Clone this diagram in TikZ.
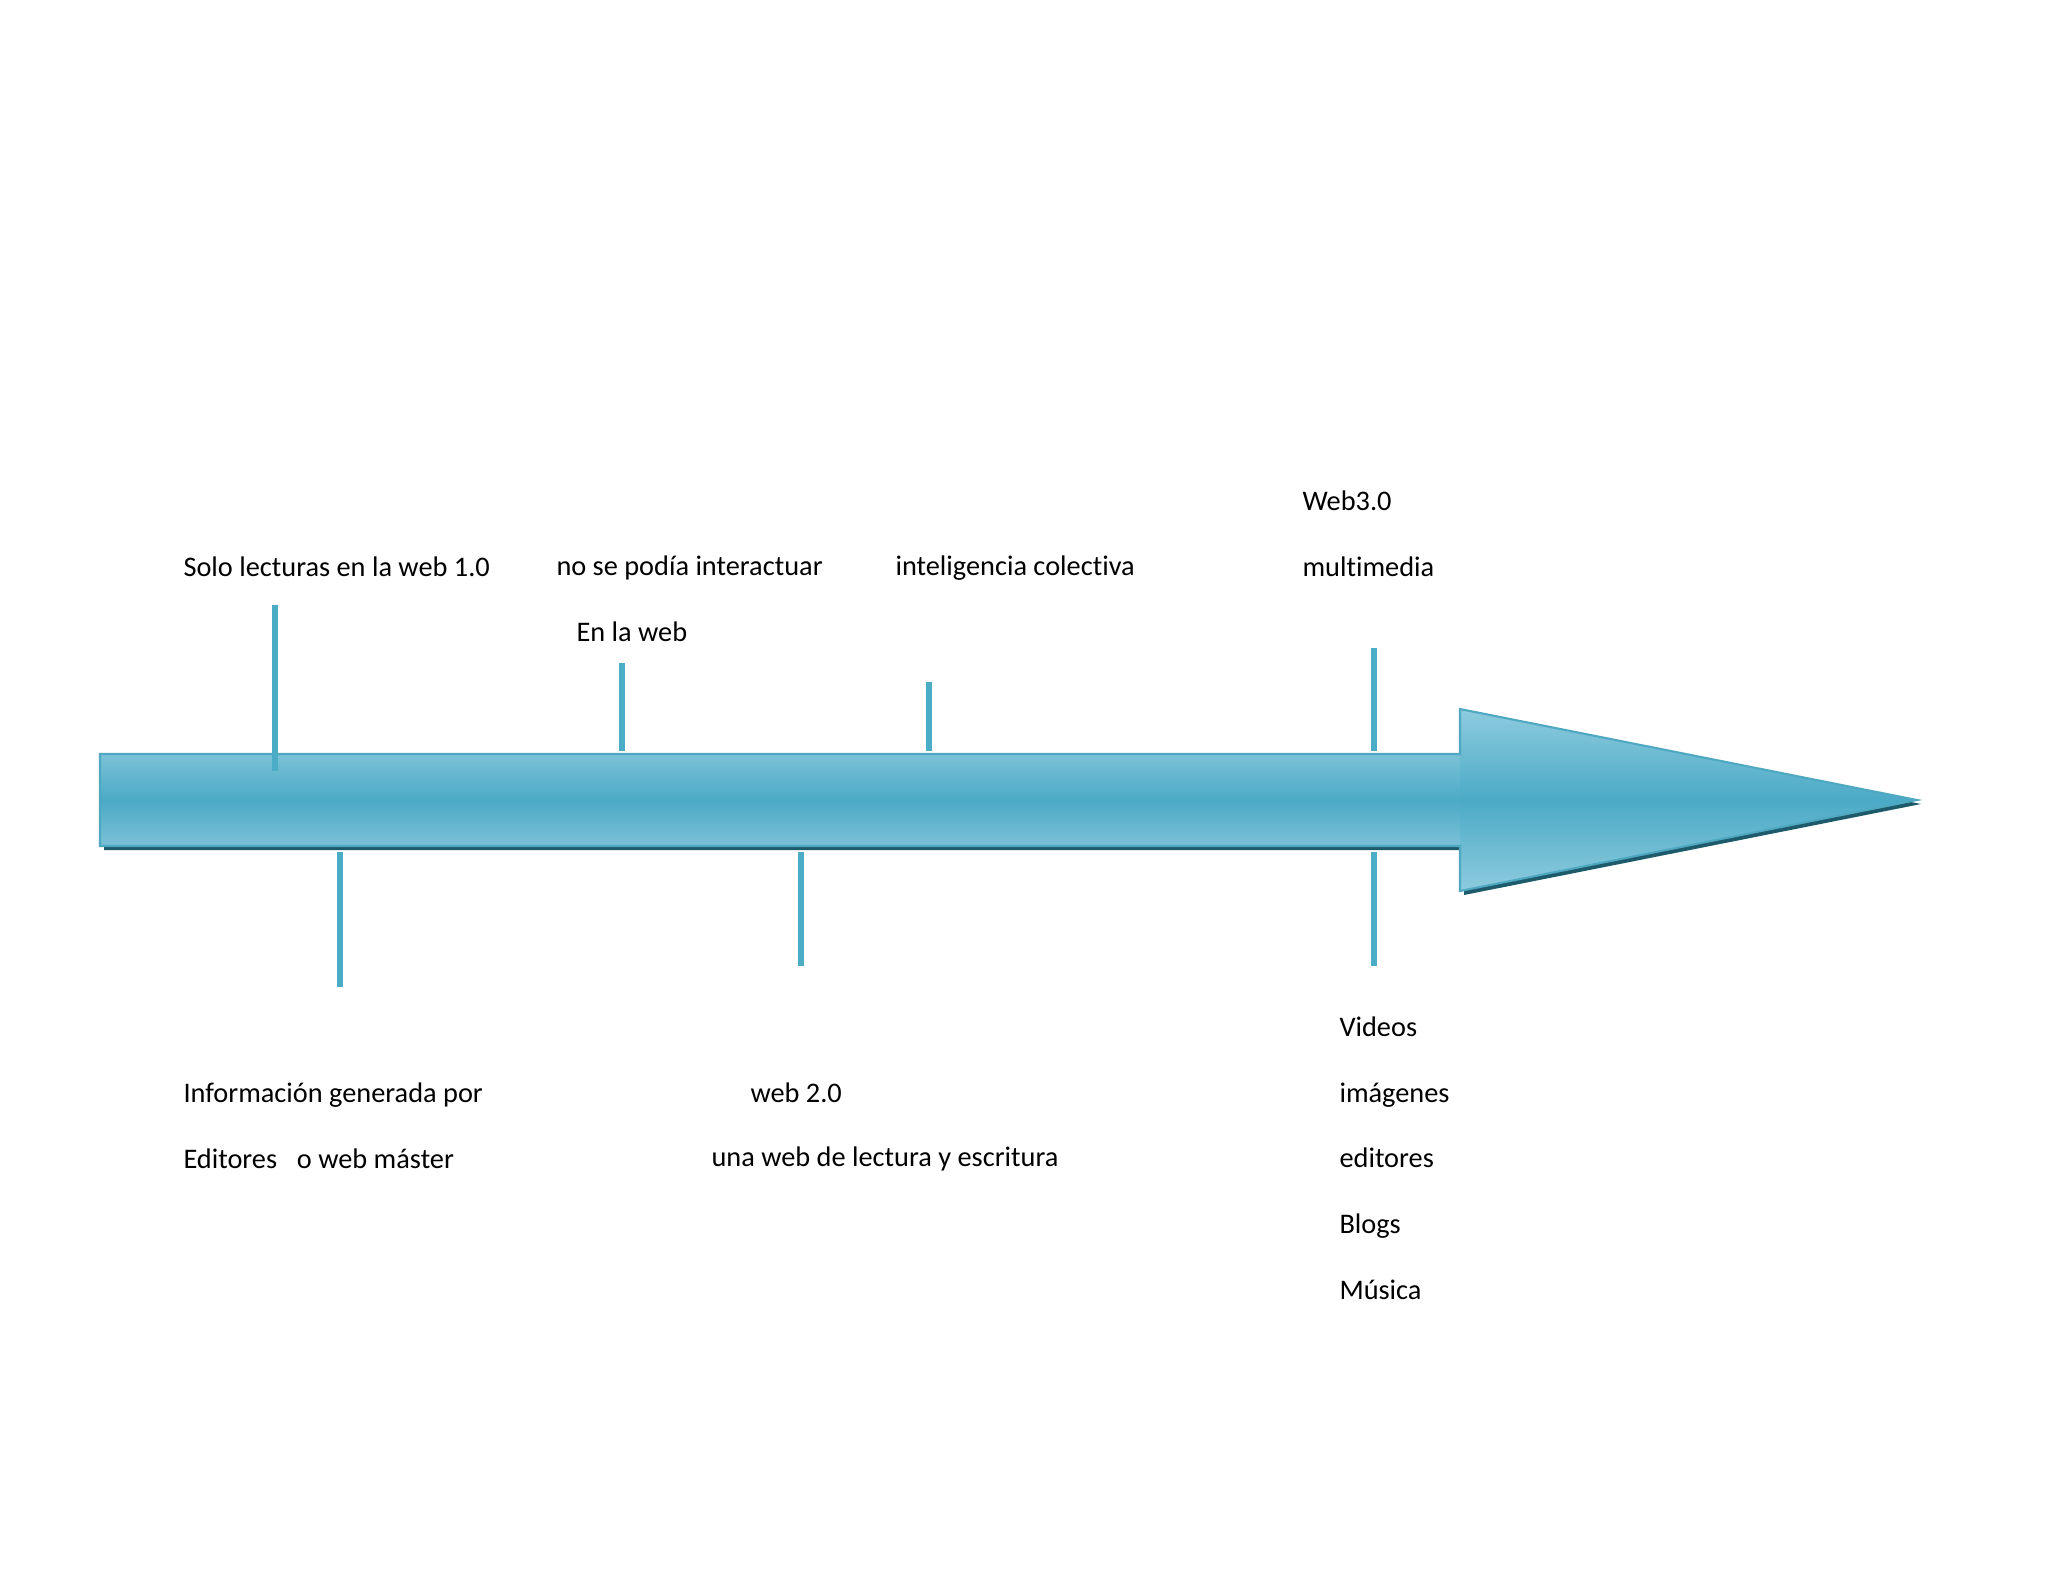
\documentclass[tikz,border=0pt]{standalone}
\usepackage{fontspec}
\setmainfont{Carlito}[Ligatures={NoCommon}]
\usetikzlibrary{positioning}
\definecolor{tickblue}{HTML}{4BACC6}
\definecolor{shaftlight}{HTML}{7BC1D7}
\definecolor{headlight}{HTML}{8ECBDE}
\definecolor{shaftmid}{HTML}{4BAAC6}
\definecolor{edgeblue}{HTML}{4EA8C2}
\definecolor{shadowteal}{HTML}{1D5A6A}

\begin{document}
\begin{tikzpicture}[x=0.013643cm,y=-0.013643cm,
  font=\fontsize{11}{25.5}\selectfont,
  lbl/.style={anchor=west,inner sep=0pt,align=left},
  tickline/.style={draw=tickblue,line width=2.3pt},
  shaft/.style={top color=shaftlight,bottom color=shaftlight,middle color=shaftmid},
  head/.style={top color=headlight,bottom color=headlight,middle color=shaftmid}]
\useasboundingbox (0,0) rectangle (2048,1582);
% shadow of the arrow
\fill[shadowteal] (104,758) -- (1464,758) -- (1464,713) -- (1921,804)
  -- (1464,895) -- (1464,850) -- (104,850) -- cycle;
% arrow
\fill[shaft] (100,754) rectangle (1461,846);
\fill[head] (1460,709) -- (1917,800) -- (1460,891) -- cycle;
\draw[edgeblue,line width=0.8pt,line join=miter] (100,754) -- (1460,754) -- (1460,709)
  -- (1917,800) -- (1460,891) -- (1460,846) -- (100,846) -- cycle;
% ticks above
\draw[tickline] (275,605) -- (275,771);
\draw[tickline] (622,663) -- (622,751);
\draw[tickline] (929,682) -- (929,751);
\draw[tickline] (1374,648) -- (1374,751);
% ticks below
\draw[tickline] (340,852) -- (340,987);
\draw[tickline] (801,852) -- (801,966);
\draw[tickline] (1374,852) -- (1374,966);
% labels above
\node[lbl] (solo) at (183,567) {Solo lecturas en la web 1.0};
\node[lbl] (nose) at (556,568) {no se podía interactuar};
\node[lbl] (enla) at (576,632) {En la web};
\node[lbl] (intel) at (895,568) {inteligencia colectiva};
\node[lbl] (web3) at (1302,534) {Web3.0\\multimedia};
% labels below
\node[lbl] (info) at (183,1126) {Información generada por\\Editores\hspace{0.7em}o web máster};
\node[lbl] (web2) at (750,1093) {web 2.0};
\node[lbl] (unaweb) at (711,1159) {una web de lectura y escritura};
\node[lbl] (media) at (1339,1158) {Videos\\imágenes\\editores\\Blogs\\Música};
\end{tikzpicture}
\end{document}
